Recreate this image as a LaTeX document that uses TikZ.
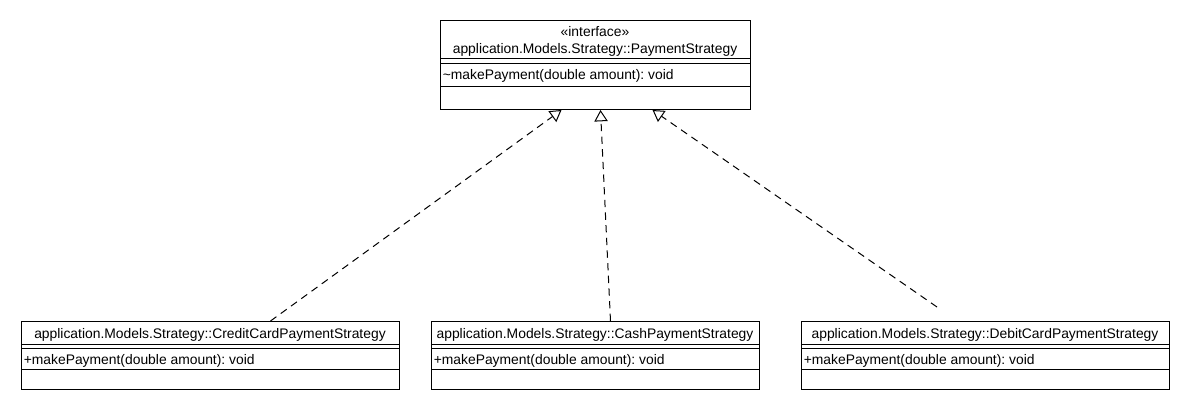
\documentclass[tikz,border=0pt]{standalone}
\usepackage{fontspec}
\setmainfont{Liberation Sans}
\usetikzlibrary{arrows.meta}
\frenchspacing

\tikzset{
  classbox/.style={draw, line width=0.75pt, inner sep=0pt, anchor=north west},
  classname/.style={inner sep=0pt, anchor=base, font=\fontsize{10.4pt}{12pt}\selectfont},
  member/.style={inner sep=0pt, anchor=base west, font=\fontsize{10.4pt}{12pt}\selectfont},
  realize/.style={line width=0.75pt, dash pattern=on 5.5pt off 4pt, -{Triangle[open, length=8.5pt, width=10pt]}},
  sep/.style={line width=0.75pt}
}

\begin{document}
\begin{tikzpicture}[x=0.75pt, y=-0.75pt]
            \useasboundingbox (0,0) rectangle (1190,410);
            \node[classbox, minimum width=232.5pt, minimum height=66.75pt] (ps) at (440,20) {};
            \node[classbox, minimum width=283.5pt, minimum height=51pt]    (cc) at (21,321) {};
            \node[classbox, minimum width=246pt,   minimum height=51pt]    (cp) at (431,321) {};
            \node[classbox, minimum width=276pt,   minimum height=51pt]    (dc) at (801,321) {};
            \foreach \d in {39,43.5,66.5} \draw[sep] (ps.north west) ++(0,\d) -- ++(310,0);
            \foreach \d in {23,27.5,48} {
                \draw[sep] (cc.north west) ++(0,\d) -- ++(378,0);
                \draw[sep] (cp.north west) ++(0,\d) -- ++(328,0);
                \draw[sep] (dc.north west) ++(0,\d) -- ++(368,0);
            }
            \node[classname] (ps-st)   at (595,37)   {«interface»};
            \node[classname] (ps-name) at (595,53.5) {application.Models.Strategy::PaymentStrategy};
            \node[member]    (ps-op)   at (442.5,80) {\textasciitilde makePayment(double amount): void};
            \node[classname] (cc-name) at (210,338.5) {application.Models.Strategy::CreditCardPaymentStrategy};
            \node[member]    (cc-op)   at (23.5,364)  {+makePayment(double amount): void};
            \node[classname] (cp-name) at (595,338.5) {application.Models.Strategy::CashPaymentStrategy};
            \node[member]    (cp-op)   at (433.5,364) {+makePayment(double amount): void};
            \node[classname] (dc-name) at (985,338.5) {application.Models.Strategy::DebitCardPaymentStrategy};
            \node[member]    (dc-op)   at (803.5,364) {+makePayment(double amount): void};
            \coordinate (dc-end) at (937,307);
            \draw[realize] ([xshift=45pt]cc.north)    -- ([xshift=-25.5pt]ps.south);
            \draw[realize] ([xshift=11.25pt]cp.north) -- ([xshift=3.75pt]ps.south);
            \draw[realize] (dc-end)                   -- ([xshift=42.75pt]ps.south);
\end{tikzpicture}
\end{document}
